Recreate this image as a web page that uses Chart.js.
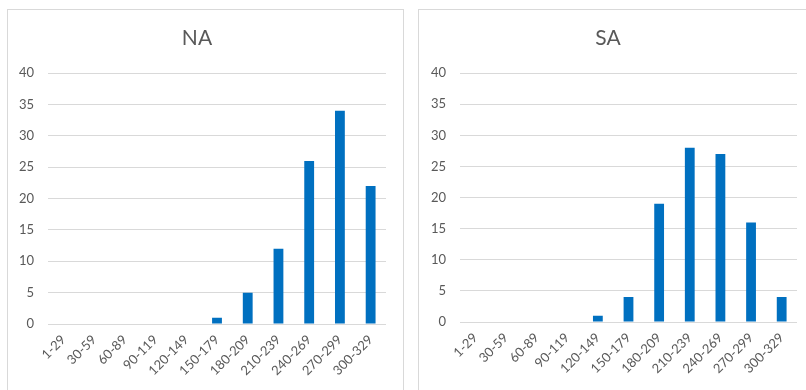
<!DOCTYPE html>
<html>
<head>
<meta charset="utf-8">
<script src="https://cdn.jsdelivr.net/npm/chart.js@4"></script>
<style>
    body { margin: 0; background: #fff; width: 806px; height: 390px; overflow: hidden; position: relative; }
    .panel { position: absolute; border: 1px solid #d9d9d9; box-sizing: border-box; }
    canvas { position: absolute; }
</style>
</head>
<body>
<div class="panel" style="left:7px; top:9px; width:397px; height:400px;"></div>
<div class="panel" style="left:418px; top:9px; width:400px; height:400px;"></div>
<canvas id="naChart" style="left:8px; top:10px; width:394px; height:380px;" width="394" height="380"></canvas>
<canvas id="saChart" style="left:419px; top:10px; width:387px; height:380px;" width="387" height="380"></canvas>
<script>
const categories = ['1-29', '30-59', '60-89', '90-119', '120-149', '150-179', '180-209', '210-239', '240-269', '270-299', '300-329'];
const naValues = [0, 0, 0, 0, 0, 1, 5, 12, 26, 34, 22];
const saValues = [0, 0, 0, 0, 1, 4, 19, 28, 27, 16, 4];
const yMin = 0;
const yMax = 40;
const yStep = 5;

const textColor = '#595959';
const barColor = '#0070C0';
const gridColor = '#d9d9d9';
Chart.defaults.font.family = 'Lato, "Open Sans", sans-serif';
Chart.defaults.color = textColor;

function makeChart(id, title, values, yAxisWidth, rightPad, xAxisHeight) {
    return new Chart(document.getElementById(id), {
        type: 'bar',
        data: {
            labels: categories,
            datasets: [{
                label: title,
                data: values,
                backgroundColor: barColor,
                borderWidth: 0,
                barPercentage: 0.32,
                categoryPercentage: 1
            }]
        },
        options: {
            responsive: false,
            animation: false,
            layout: { padding: { left: 0, right: rightPad, top: 0, bottom: 0 } },
            plugins: {
                legend: { display: false },
                tooltip: { enabled: false },
                title: {
                    display: true,
                    text: title,
                    color: textColor,
                    font: { size: 21, weight: 'normal' },
                    padding: { top: 16, bottom: 22 }
                }
            },
            scales: {
                x: {
                    grid: { display: false, drawTicks: false },
                    border: { display: false },
                    ticks: {
                        color: textColor,
                        font: { size: 13 },
                        minRotation: 45,
                        maxRotation: 45,
                        padding: 8
                    },
                    afterFit: function(scale) { scale.height = xAxisHeight; }
                },
                y: {
                    min: yMin,
                    max: yMax,
                    grid: { color: gridColor, lineWidth: 1, drawTicks: false },
                    border: { display: false },
                    ticks: {
                        stepSize: yStep,
                        color: textColor,
                        font: { size: 13 },
                        padding: 14
                    },
                    afterFit: function(scale) { scale.width = yAxisWidth; }
                }
            }
        }
    });
}

makeChart('naChart', 'NA', naValues, 40, 16, 66);
makeChart('saChart', 'SA', saValues, 41, 9, 68);
</script>
</body>
</html>
